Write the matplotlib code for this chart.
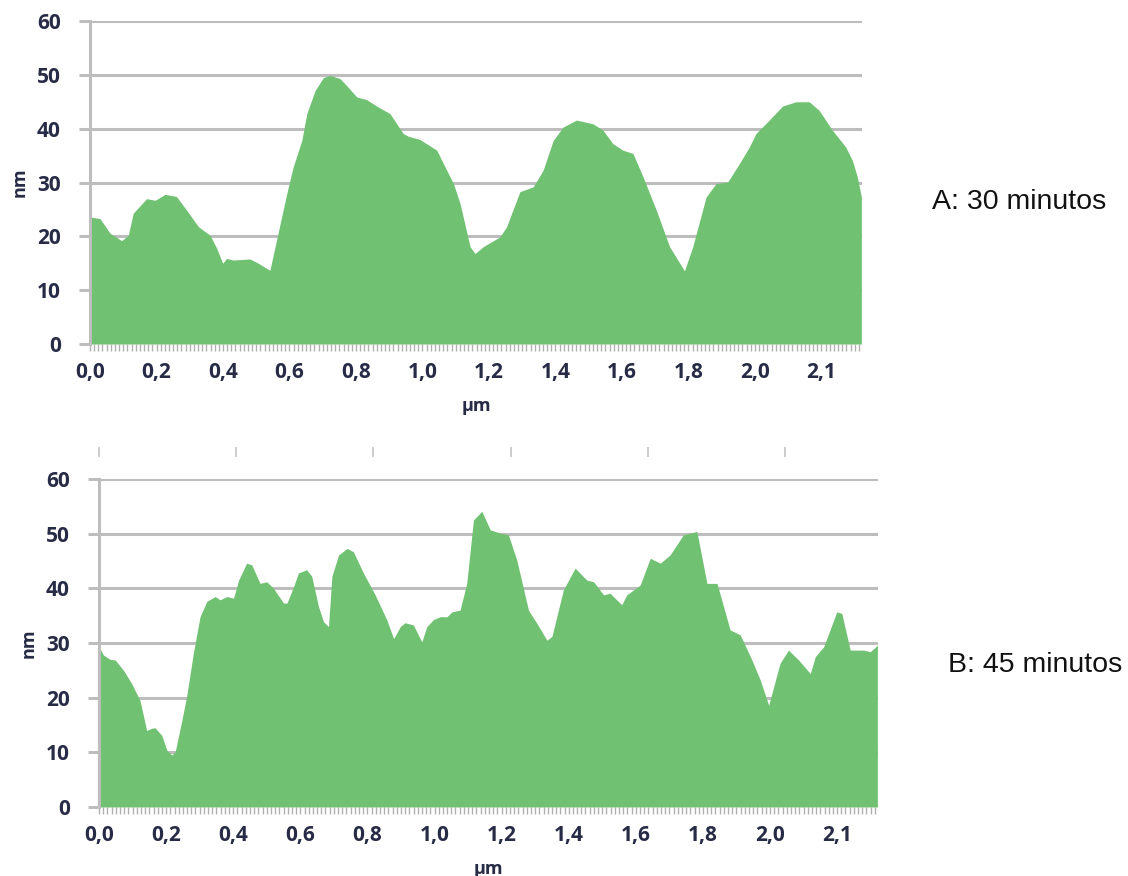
"""AFM height profiles after 30 and 45 minutes, drawn as filled area charts."""

import matplotlib.pyplot as plt
import numpy as np

# Profile A (30 minutos): position along the scan line (um) and height (nm)
x_a = [0.000, 0.030, 0.060, 0.095, 0.115, 0.130, 0.170, 0.196, 0.226, 0.260,
       0.290, 0.326, 0.361, 0.381, 0.399, 0.411, 0.431, 0.481, 0.506, 0.541,
       0.561, 0.592, 0.611, 0.637, 0.652, 0.677, 0.702, 0.722, 0.752, 0.772,
       0.802, 0.832, 0.862, 0.902, 0.942, 0.957, 0.992, 1.043, 1.063, 1.093,
       1.113, 1.143, 1.158, 1.183, 1.233, 1.253, 1.293, 1.333, 1.363, 1.393,
       1.423, 1.463, 1.513, 1.543, 1.573, 1.603, 1.633, 1.663, 1.703, 1.743,
       1.788, 1.813, 1.853, 1.883, 1.918, 1.953, 1.983, 2.003, 2.043, 2.083,
       2.123, 2.163, 2.193, 2.233, 2.273, 2.293, 2.308, 2.320]
h_a = [23.6, 23.3, 20.6, 19.2, 20.2, 24.3, 27.0, 26.7, 27.8, 27.4,
       24.9, 21.8, 20.2, 17.8, 15.0, 15.9, 15.6, 15.8, 15.0, 13.7,
       19.3, 28.0, 32.9, 37.8, 42.8, 47.1, 49.5, 49.9, 49.3, 48.0,
       45.9, 45.4, 44.2, 42.8, 39.1, 38.6, 38.0, 36.0, 33.5, 29.8,
       26.1, 18.1, 16.8, 18.1, 19.9, 21.8, 28.3, 29.2, 32.3, 37.8,
       40.3, 41.6, 40.9, 39.7, 37.2, 36.0, 35.4, 31.1, 24.9, 18.1,
       13.6, 18.1, 27.3, 29.8, 30.1, 33.5, 36.6, 39.1, 41.6, 44.2,
       45.0, 45.0, 43.4, 39.7, 36.6, 34.1, 31.0, 27.3]

# Profile B (45 minutos)
x_b = [0.000, 0.013, 0.033, 0.048, 0.073, 0.097, 0.122, 0.142, 0.157, 0.167,
       0.187, 0.202, 0.217, 0.227, 0.247, 0.261, 0.281, 0.301, 0.321, 0.346,
       0.361, 0.381, 0.401, 0.416, 0.440, 0.455, 0.480, 0.500, 0.520, 0.550,
       0.560, 0.580, 0.594, 0.619, 0.634, 0.654, 0.669, 0.684, 0.694, 0.714,
       0.739, 0.758, 0.788, 0.823, 0.858, 0.878, 0.898, 0.912, 0.937, 0.962,
       0.977, 0.997, 1.017, 1.037, 1.052, 1.076, 1.096, 1.116, 1.141, 1.166,
       1.196, 1.220, 1.245, 1.280, 1.305, 1.335, 1.350, 1.384, 1.419, 1.454,
       1.474, 1.504, 1.523, 1.558, 1.573, 1.613, 1.643, 1.673, 1.702, 1.742,
       1.782, 1.812, 1.842, 1.881, 1.911, 1.946, 1.971, 1.996, 2.030, 2.055,
       2.085, 2.120, 2.135, 2.160, 2.199, 2.214, 2.239, 2.279, 2.299, 2.320]
h_b = [29.3, 27.8, 27.0, 26.9, 25.0, 22.6, 19.5, 14.0, 14.4, 14.5,
       13.1, 10.4, 9.5, 10.1, 15.9, 20.2, 28.1, 34.8, 37.6, 38.5,
       37.9, 38.5, 38.2, 41.5, 44.6, 44.3, 40.9, 41.2, 40.0, 37.3,
       37.3, 40.3, 42.8, 43.4, 42.2, 36.7, 33.9, 33.0, 42.2, 46.1,
       47.3, 46.7, 42.8, 38.8, 34.2, 30.8, 33.0, 33.7, 33.3, 30.2,
       33.0, 34.3, 34.8, 34.8, 35.7, 36.0, 40.9, 52.5, 54.1, 50.7,
       50.1, 49.8, 45.2, 36.0, 33.6, 30.5, 31.2, 39.7, 43.7, 41.5,
       41.2, 38.8, 39.1, 37.0, 38.8, 40.6, 45.5, 44.6, 46.1, 49.8,
       50.4, 40.9, 40.9, 32.4, 31.5, 26.9, 23.2, 18.6, 26.3, 28.7,
       26.9, 24.4, 27.5, 29.3, 35.7, 35.4, 28.7, 28.7, 28.4, 29.6]

x_tick_pos = [0.0, 0.2, 0.4, 0.6, 0.8, 1.0, 1.2, 1.4, 1.6, 1.8, 2.0, 2.2]
x_tick_labels = ["0,0", "0,2", "0,4", "0,6", "0,8", "1,0",
                 "1,2", "1,4", "1,6", "1,8", "2,0", "2,1"]
y_ticks = [0, 10, 20, 30, 40, 50, 60]

# stray ticks left over above the second chart
stray_ticks = [0.0, 0.409, 0.818, 1.227, 1.636, 2.045]

X_MAX = 2.322
FILL = "#70c172"
GRID = "#bdbdbd"
LABEL = "#272b45"
TICK_FONT = dict(family="Open Sans", weight="bold", size=15, color=LABEL)


def profile_panel(ax, x, h):
    ax.fill_between(x, h, 0, color=FILL, linewidth=0, zorder=2)
    ax.set_xlim(0, X_MAX)
    ax.set_ylim(0, 60)
    ax.set_yticks(y_ticks)
    ax.set_xticks(x_tick_pos)
    ax.set_xticklabels(x_tick_labels, fontdict=TICK_FONT)
    ax.set_yticklabels([str(v) for v in y_ticks], fontdict=TICK_FONT)
    ax.set_xticks(np.arange(0, X_MAX, 0.0125), minor=True)

    ax.grid(axis="y", color=GRID, linewidth=2.2, zorder=1)
    for side in ("top", "right", "bottom"):
        ax.spines[side].set_visible(False)
    ax.spines["left"].set_color(GRID)
    ax.spines["left"].set_linewidth(2.2)
    ax.spines["left"].set_zorder(3)

    ax.tick_params(axis="y", length=8, width=2.2, color=GRID, pad=13)
    ax.tick_params(axis="x", which="major", length=5, width=1.0,
                   color="#b0b0b0", pad=8)
    ax.tick_params(axis="x", which="minor", length=5, width=1.0,
                   color="#b0b0b0")

    ax.set_xlabel("µm", fontfamily="Open Sans", fontweight="bold",
                  fontsize=13, color=LABEL, labelpad=10)
    ax.set_ylabel("nm", fontfamily="Open Sans", fontweight="bold",
                  fontsize=13, color=LABEL, labelpad=6)


def main():
    fig = plt.figure(figsize=(11.28, 8.76), dpi=100)

    ax_a = fig.add_axes([0.0798, 0.6073, 0.6844, 0.3687])
    ax_b = fig.add_axes([0.0878, 0.0788, 0.6906, 0.3744])

    profile_panel(ax_a, x_a, h_a)
    profile_panel(ax_b, x_b, h_b)

    sec = ax_b.secondary_xaxis(1.082)
    sec.set_xticks(stray_ticks)
    sec.set_xticklabels([])
    sec.spines["top"].set_visible(False)
    sec.tick_params(length=7, width=1.2, color="#c4c4c4", direction="inout")

    fig.text(0.826, 0.769, "A: 30 minutos", fontfamily="Liberation Sans",
             fontsize=20.5, color="#111111", va="center", ha="left")
    fig.text(0.840, 0.241, "B: 45 minutos", fontfamily="Liberation Sans",
             fontsize=20.5, color="#111111", va="center", ha="left")

    fig.savefig("out.png", dpi=100, facecolor="white")
    plt.close(fig)


if __name__ == "__main__":
    main()
